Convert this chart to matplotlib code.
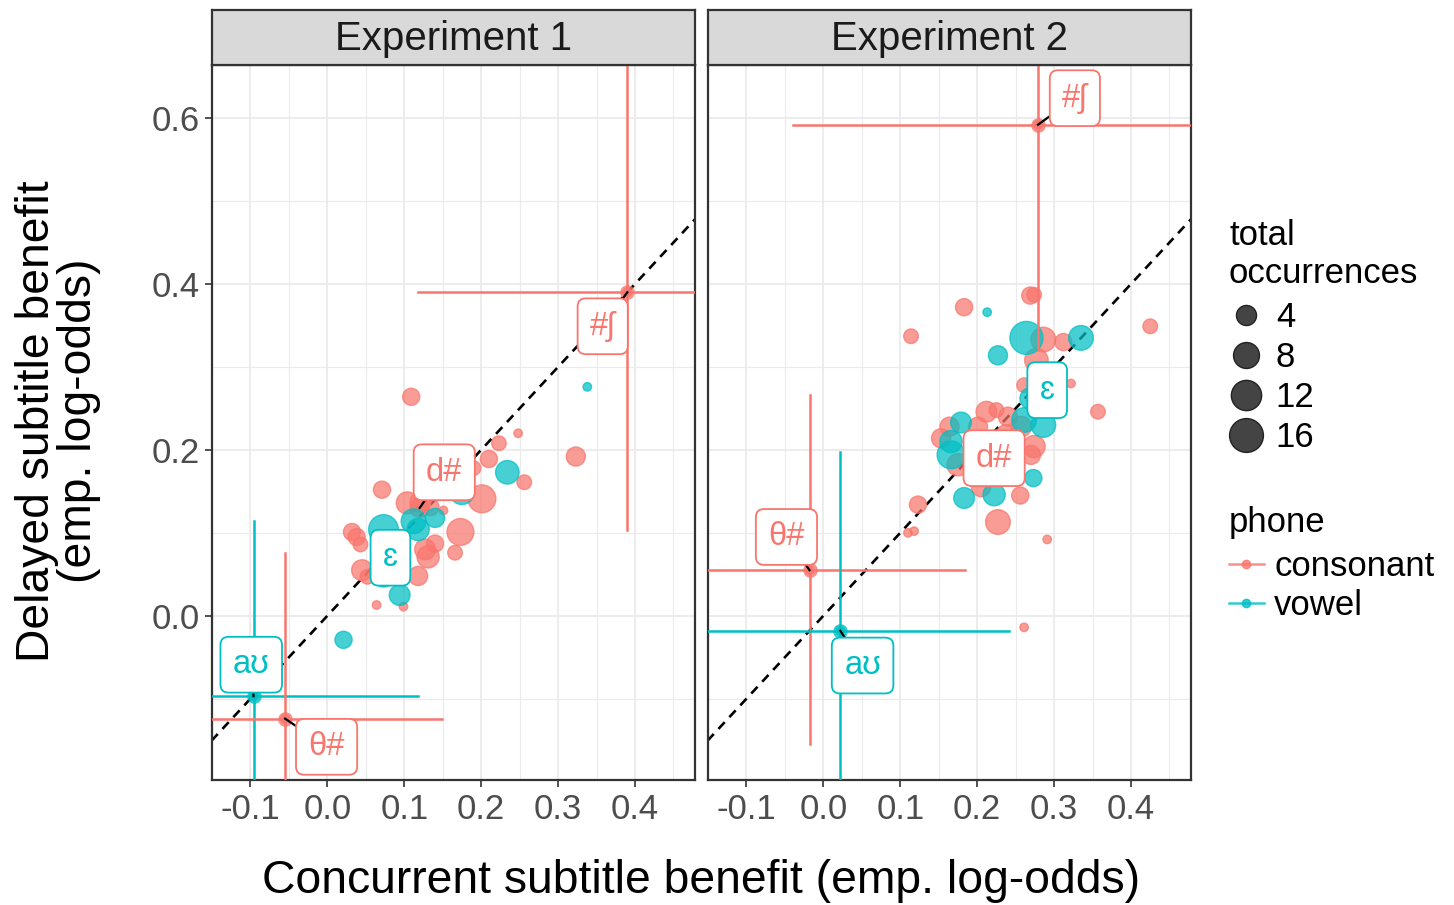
import numpy as np
import matplotlib
matplotlib.use('Agg')
import matplotlib.pyplot as plt
from matplotlib.lines import Line2D

plt.rcParams['font.family'] = ['Liberation Sans', 'DejaVu Sans']

CONS = '#F8766D'
VOW = '#00BFC4'

# ---- data: experiment 1 ----
e1_cons_x = [0.109, 0.248, 0.223, 0.323, 0.210, 0.256, 0.201, 0.190, 0.071, 0.104, 0.121, 0.134, 0.151,
             0.173, 0.032, 0.038, 0.043, 0.140, 0.131, 0.166, 0.045, 0.052, 0.118, 0.064, 0.099, 0.127,
             0.120, 0.390, -0.055]
e1_cons_y = [0.264, 0.220, 0.208, 0.192, 0.189, 0.161, 0.141, 0.178, 0.152, 0.136, 0.137, 0.131, 0.127,
             0.101, 0.101, 0.095, 0.086, 0.087, 0.071, 0.076, 0.055, 0.047, 0.048, 0.013, 0.011, 0.080,
             0.130, 0.390, -0.124]
e1_cons_n = [3, 1, 2, 4, 3, 2, 11, 2, 3, 6, 5, 3, 1,
             10, 3, 3, 2, 3, 6, 2, 5, 2, 4, 1, 1, 5,
             4, 1, 1]
e1_vow_x = [0.338, 0.234, 0.175, 0.112, 0.140, 0.073, 0.118, 0.073, 0.094, 0.021, 0.085, -0.096]
e1_vow_y = [0.276, 0.173, 0.149, 0.114, 0.118, 0.104, 0.104, 0.048, 0.025, -0.029, 0.075, -0.097]
e1_vow_n = [1, 7, 8, 8, 4, 13, 6, 6, 5, 3, 6, 1]

# ---- data: experiment 2 ----
e2_cons_x = [0.183, 0.269, 0.274, 0.425, 0.286, 0.312, 0.277, 0.261, 0.322, 0.114, 0.357, 0.212, 0.225,
             0.240, 0.153, 0.201, 0.175, 0.257, 0.274, 0.270, 0.205, 0.256, 0.227, 0.123, 0.118, 0.110,
             0.291, 0.261, 0.164, 0.238, 0.215, 0.279, -0.018]
e2_cons_y = [0.372, 0.386, 0.387, 0.349, 0.333, 0.330, 0.308, 0.278, 0.280, 0.337, 0.246, 0.246, 0.248,
             0.240, 0.214, 0.228, 0.182, 0.228, 0.204, 0.194, 0.155, 0.145, 0.113, 0.134, 0.102, 0.100,
             0.092, -0.014, 0.228, 0.218, 0.195, 0.592, 0.055]
e2_cons_n = [3, 3, 2, 2, 8, 3, 7, 2, 1, 2, 2, 5, 2,
             4, 4, 4, 6, 5, 6, 4, 4, 3, 8, 3, 1, 1,
             1, 1, 4, 5, 6, 1, 1]
e2_vow_x = [0.213, 0.264, 0.335, 0.227, 0.179, 0.166, 0.166, 0.261, 0.286, 0.273, 0.183, 0.222, 0.270, 0.022]
e2_vow_y = [0.366, 0.335, 0.335, 0.314, 0.233, 0.210, 0.194, 0.236, 0.230, 0.166, 0.142, 0.146, 0.262, -0.018]
e2_vow_n = [1, 17, 8, 4, 5, 6, 11, 8, 8, 3, 5, 6, 6, 1]

# ---- labelled phones: point, interval and label position ----
e1_lab = ['#ʃ', 'd#', 'ɛ', 'aʊ', 'θ#']
e1_lab_kind = ['c', 'c', 'v', 'v', 'c']
e1_lab_px = [0.390, 0.120, 0.085, -0.096, -0.055]
e1_lab_py = [0.390, 0.130, 0.075, -0.097, -0.124]
e1_lab_tx = [0.358, 0.152, 0.082, -0.099, -0.001]
e1_lab_ty = [0.349, 0.173, 0.070, -0.059, -0.158]
e1_err_lab = ['#ʃ', 'aʊ', 'θ#']
e1_xlo = [0.118, -0.30, -0.30]
e1_xhi = [0.55, 0.118, 0.149]
e1_ylo = [0.104, -0.40, -0.40]
e1_yhi = [0.80, 0.114, 0.076]

e2_lab = ['#ʃ', 'ɛ', 'd#', 'θ#', 'aʊ']
e2_lab_kind = ['c', 'v', 'c', 'c', 'v']
e2_lab_px = [0.279, 0.270, 0.215, -0.018, 0.022]
e2_lab_py = [0.592, 0.262, 0.195, 0.055, -0.018]
e2_lab_tx = [0.327, 0.291, 0.222, -0.048, 0.051]
e2_lab_ty = [0.624, 0.272, 0.190, 0.095, -0.060]
e2_err_lab = ['#ʃ', 'θ#', 'aʊ']
e2_xlo = [-0.04, -0.30, -0.30]
e2_xhi = [0.55, 0.184, 0.242]
e2_ylo = [0.32, -0.154, -0.40]
e2_yhi = [0.80, 0.266, 0.198]

x_ticks = [-0.1, 0.0, 0.1, 0.2, 0.3, 0.4]
x_tick_labels = ['-0.1', '0.0', '0.1', '0.2', '0.3', '0.4']
y_ticks = [0.0, 0.2, 0.4, 0.6]
y_tick_labels = ['0.0', '0.2', '0.4', '0.6']
size_breaks = [4, 8, 12, 16]

all_n = e1_cons_n + e1_vow_n + e2_cons_n + e2_vow_n
n_min, n_max = min(all_n), max(all_n)


def diam_pt(n):
    # ggplot-like area scale: diameter (px) from 8.5 to 33
    n = np.asarray(n, dtype=float)
    d_px = 8.5 + 24.5 * np.sqrt((n - n_min) / (n_max - n_min))
    return d_px * 0.72


def size_s(n):
    return diam_pt(n) ** 2


fig = plt.figure(figsize=(14.54, 9.05), dpi=100)
W, H = 1454.0, 905.0
bottom = 1 - 780 / H
height = 715 / H
pw = 483 / W
ax1 = fig.add_axes([212 / W, bottom, pw, height])
ax2 = fig.add_axes([708 / W, bottom, pw, height])

panels = [
    (ax1, 'Experiment 1', e1_cons_x, e1_cons_y, e1_cons_n, e1_vow_x, e1_vow_y, e1_vow_n,
     e1_lab, e1_lab_kind, e1_lab_px, e1_lab_py, e1_lab_tx, e1_lab_ty,
     e1_err_lab, e1_xlo, e1_xhi, e1_ylo, e1_yhi),
    (ax2, 'Experiment 2', e2_cons_x, e2_cons_y, e2_cons_n, e2_vow_x, e2_vow_y, e2_vow_n,
     e2_lab, e2_lab_kind, e2_lab_px, e2_lab_py, e2_lab_tx, e2_lab_ty,
     e2_err_lab, e2_xlo, e2_xhi, e2_ylo, e2_yhi),
]

for (ax, title, cx, cy, cn, vx, vy, vn, lab, kind, lpx, lpy, ltx, lty,
     elab, xlo, xhi, ylo, yhi) in panels:
    ax.set_xlim(-0.149, 0.478)
    ax.set_ylim(-0.198, 0.664)
    ax.set_xticks(x_ticks)
    ax.set_xticklabels(x_tick_labels)
    ax.set_xticks(np.arange(-0.15, 0.5, 0.1), minor=True)
    ax.set_yticks(y_ticks)
    ax.set_yticklabels(y_tick_labels)
    ax.set_yticks([-0.1, 0.1, 0.3, 0.5], minor=True)
    ax.grid(which='major', color='#EBEBEB', lw=1.3, zorder=0)
    ax.grid(which='minor', color='#EBEBEB', lw=0.8, zorder=0)
    ax.set_axisbelow(True)
    ax.tick_params(which='minor', length=0)
    ax.tick_params(which='major', length=5, width=1.2, color='#333333',
                   labelsize=25, labelcolor='#4D4D4D', pad=4)
    for sp in ax.spines.values():
        sp.set_color('#333333')
        sp.set_linewidth(1.6)

    # diagonal
    ax.plot([-1, 1], [-1, 1], color='black', ls=(0, (3.5, 2.6)), lw=1.9, zorder=2)

    # points
    ax.scatter(cx, cy, s=size_s(cn), color=CONS, alpha=0.72, edgecolors=CONS, linewidths=1, zorder=3)
    ax.scatter(vx, vy, s=size_s(vn), color=VOW, alpha=0.72, edgecolors=VOW, linewidths=1, zorder=3)

    # intervals
    for i, name in enumerate(elab):
        j = lab.index(name)
        col = CONS if kind[j] == 'c' else VOW
        ax.plot([xlo[i], xhi[i]], [lpy[j], lpy[j]], color=col, lw=1.8, zorder=4)
        ax.plot([lpx[j], lpx[j]], [ylo[i], yhi[i]], color=col, lw=1.8, zorder=4)
        ax.scatter([lpx[j]], [lpy[j]], s=size_s(2), color=col, alpha=0.8, lw=0, zorder=4)

    # labels with segments
    for j, name in enumerate(lab):
        col = CONS if kind[j] == 'c' else VOW
        ax.plot([lpx[j], ltx[j]], [lpy[j], lty[j]], color='black', lw=1.6, zorder=5)
        ax.text(ltx[j], lty[j], name, color=col, fontsize=23.5, ha='center', va='center', zorder=6,
                bbox=dict(boxstyle='round,pad=0.38,rounding_size=0.25', fc='white', ec=col, lw=1.3))

    # strip
    strip = fig.add_axes([ax.get_position().x0, 1 - 65 / H, pw, 55 / H])
    strip.set_facecolor('#D9D9D9')
    strip.set_xticks([])
    strip.set_yticks([])
    for sp in strip.spines.values():
        sp.set_color('#333333')
        sp.set_linewidth(1.6)
    strip.text(0.5, 0.47, title, fontsize=29, color='#1A1A1A', ha='center', va='center',
               transform=strip.transAxes)

ax2.tick_params(axis='y', which='both', left=False, labelleft=False)

fig.text(701 / W, 1 - 881 / H, 'Concurrent subtitle benefit (emp. log-odds)', fontsize=33.3,
         ha='center', va='center')
fig.text(58 / W, 1 - 421 / H, 'Delayed subtitle benefit\n(emp. log-odds)', fontsize=33.3,
         rotation=90, ha='center', va='center', multialignment='center', linespacing=0.95)

# size legend
size_handles = [Line2D([], [], ls='', marker='o', markersize=float(diam_pt(b)) * 1.05,
                       mfc='#444444', mec='#222222', mew=1) for b in size_breaks]
leg1 = fig.legend(size_handles, [str(b) for b in size_breaks], title='total\noccurrences',
                  loc='upper left', bbox_to_anchor=(1229 / W, 1 - 219 / H), frameon=False,
                  fontsize=25, title_fontsize=25, handlelength=1.0, handletextpad=0.35,
                  labelspacing=0.2, borderaxespad=0, borderpad=0)
leg1._legend_box.align = 'left'
leg1._legend_box.sep = 8

phone_handles = [Line2D([0, 1], [0, 0], color=CONS, lw=1.8, marker='o', markersize=6, alpha=0.8),
                 Line2D([0, 1], [0, 0], color=VOW, lw=1.8, marker='o', markersize=6, alpha=0.8)]
leg2 = fig.legend(phone_handles, ['consonant', 'vowel'], title='phone',
                  loc='upper left', bbox_to_anchor=(1229 / W, 1 - 506 / H), frameon=False,
                  fontsize=25, title_fontsize=25, handlelength=1.0, handletextpad=0.3,
                  labelspacing=0.18, borderaxespad=0, borderpad=0)
leg2._legend_box.align = 'left'
leg2._legend_box.sep = 8

fig.savefig('out.png', dpi=100)
